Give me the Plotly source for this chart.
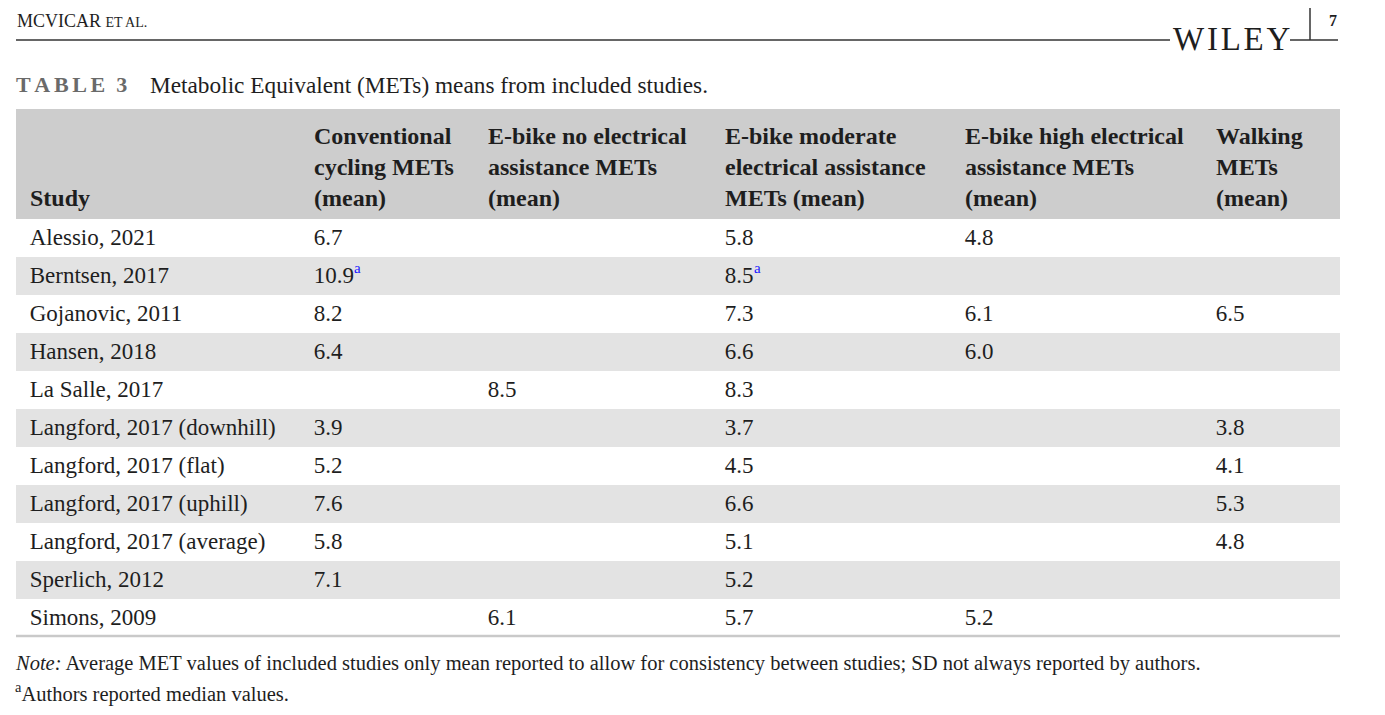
import plotly.graph_objects as go

# page offset (default body margin of the html page)
OFF = 8
WF, HF = 1385 - 2 * OFF, 715 - 2 * OFF

# ---------------- data ----------------
studies = ["Alessio, 2021", "Berntsen, 2017", "Gojanovic, 2011", "Hansen, 2018",
           "La Salle, 2017", "Langford, 2017 (downhill)", "Langford, 2017 (flat)",
           "Langford, 2017 (uphill)", "Langford, 2017 (average)", "Sperlich, 2012",
           "Simons, 2009"]
conventional = [6.7, 10.9, 8.2, 6.4, None, 3.9, 5.2, 7.6, 5.8, 7.1, None]
ebike_none = [None, None, None, None, 8.5, None, None, None, None, None, 6.1]
ebike_moderate = [5.8, 8.5, 7.3, 6.6, 8.3, 3.7, 4.5, 6.6, 5.1, 5.2, 5.7]
ebike_high = [4.8, None, 6.1, 6.0, None, None, None, None, None, None, 5.2]
walking = [None, None, 6.5, None, None, 3.8, 4.1, 5.3, 4.8, None, None]
median_conventional = [False, True, False, False, False, False, False, False, False, False, False]
median_moderate = [False, True, False, False, False, False, False, False, False, False, False]

header_lines = [
    ["", "", "Study"],
    ["Conventional", "cycling METs", "(mean)"],
    ["E-bike no electrical", "assistance METs", "(mean)"],
    ["E-bike moderate", "electrical assistance", "METs (mean)"],
    ["E-bike high electrical", "assistance METs", "(mean)"],
    ["Walking", "METs", "(mean)"],
]

title_label = "TABLE 3"
title_text = "Metabolic Equivalent (METs) means from included studies."
note_text = ("<i>Note:</i> Average MET values of included studies only mean reported to allow for "
             "consistency between studies; SD not always reported by authors.")
footnote_marker = "a"
footnote_text = "Authors reported median values."

# ---------------- styling ----------------
FONT = "Liberation Serif"
TXT = "#1e1e1e"
HEADER_FILL = "#cdcdcd"
STRIPE = "#e3e3e3"
SUP_COLOR = "#1a1aff"
PAD = "\u00a0"
BODY_SIZE = 23
HEAD_SIZE = 24

def fmt(vals):
    return ["" if v is None else PAD + f"{v:.1f}" for v in vals]

cols = [
    [PAD + s for s in studies],
    fmt(conventional),
    fmt(ebike_none),
    fmt(ebike_moderate),
    fmt(ebike_high),
    fmt(walking),
]
header_vals = ["<b>" + "<br>".join(PAD + l if l else PAD for l in hl) + "</b>" for hl in header_lines]

row_fill = ["white" if i % 2 == 0 else STRIPE for i in range(len(studies))]

# table geometry (reference pixels)
x_left, x_right = 16, 1340
col_edges = [16, 300, 474, 711, 951, 1202, 1340]
col_widths = [col_edges[i + 1] - col_edges[i] for i in range(6)]
table_top = 109
header_shift = 6
header_h = 110
row_h = 38
cell_pad = 8
table_bottom = table_top + header_h + row_h * len(studies)

def px(x):
    return (x - OFF) / WF

def py(y):
    return 1 - (y - OFF) / HF

fig = go.Figure(go.Table(
    domain=dict(x=[px(x_left), px(x_right)], y=[0.0, py(table_top + header_shift)]),
    columnwidth=col_widths,
    header=dict(
        values=header_vals,
        fill_color=HEADER_FILL,
        line=dict(width=0, color=HEADER_FILL),
        align="left",
        height=header_h - header_shift,
        font=dict(family=FONT, size=HEAD_SIZE, color=TXT),
    ),
    cells=dict(
        values=cols,
        fill_color=[row_fill] * 6,
        line=dict(width=0, color=[row_fill] * 6),
        align="left",
        height=row_h,
        font=dict(family=FONT, size=BODY_SIZE, color=TXT),
    ),
))

shapes = []
# top strip of the header band (header text sits slightly lower than the table top)
shapes.append(dict(type="rect", xref="paper", yref="paper", x0=px(x_left), x1=px(x_right),
                   y0=py(table_top + header_shift + 1), y1=py(table_top),
                   fillcolor=HEADER_FILL, line=dict(width=0)))
# running head rule
shapes.append(dict(type="line", xref="paper", yref="paper", x0=px(16), x1=px(1170),
                   y0=py(40), y1=py(40), line=dict(color="#333333", width=1.5)))
shapes.append(dict(type="line", xref="paper", yref="paper", x0=px(1290), x1=px(1338),
                   y0=py(40), y1=py(40), line=dict(color="#333333", width=1.5)))
shapes.append(dict(type="line", xref="paper", yref="paper", x0=px(1310), x1=px(1310),
                   y0=py(8), y1=py(40), line=dict(color="#333333", width=1.5)))
# bottom table rule
shapes.append(dict(type="line", xref="paper", yref="paper", x0=px(x_left), x1=px(x_right),
                   y0=py(table_bottom - 1), y1=py(table_bottom - 1),
                   line=dict(color="#c9c9c9", width=2.5)))

HS = "\u200a"
SIX = "\u2006"
label = SIX.join("TABLE") + "\u2002" + "3"
annotations = [
    dict(text="MCVICAR <span style='font-size:14px'>ET AL.</span>", x=px(15), y=py(21),
         xref="paper", yref="paper", xanchor="left", yanchor="middle", showarrow=False,
         font=dict(family=FONT, size=18, color=TXT)),
    dict(text=HS.join("WILEY"), x=px(1231), y=py(39), xref="paper", yref="paper",
         xanchor="center", yanchor="middle", showarrow=False,
         font=dict(family=FONT, size=33, color=TXT)),
    dict(text="<b>7</b>", x=px(1333), y=py(21), xref="paper", yref="paper",
         xanchor="center", yanchor="middle", showarrow=False,
         font=dict(family=FONT, size=16, color=TXT)),
    dict(text="<b>" + label + "</b>", x=px(14), y=py(85),
         xref="paper", yref="paper", xanchor="left", yanchor="middle", showarrow=False,
         font=dict(family=FONT, size=22, color="#6a6a6a")),
    dict(text=title_text, x=px(148), y=py(85), xref="paper", yref="paper",
         xanchor="left", yanchor="middle", showarrow=False,
         font=dict(family=FONT, size=23.3, color=TXT)),
    dict(text=note_text, x=px(13), y=py(663), xref="paper", yref="paper",
         xanchor="left", yanchor="middle", showarrow=False,
         font=dict(family=FONT, size=20.5, color=TXT)),
    dict(text="<sup>" + footnote_marker + "</sup>" + footnote_text, x=px(13), y=py(692),
         xref="paper", yref="paper", xanchor="left", yanchor="middle", showarrow=False,
         font=dict(family=FONT, size=20.5, color=TXT)),
]

# superscript "a" markers after median values (placed right after the number in its cell)
def num_width(s):
    # Liberation Serif advance widths: digits 0.5em, period 0.25em
    return sum(0.5 if ch.isdigit() else 0.25 for ch in s) * BODY_SIZE

nbsp_w = 0.25 * BODY_SIZE
for col_idx, vals, flags in [(1, conventional, median_conventional),
                             (3, ebike_moderate, median_moderate)]:
    for r, (v, f) in enumerate(zip(vals, flags)):
        if f and v is not None:
            x_sup = col_edges[col_idx] + cell_pad + nbsp_w + num_width(f"{v:.1f}") - 1
            y_sup = table_top + header_h + r * row_h + 11
            annotations.append(dict(
                text=footnote_marker, x=px(x_sup), y=py(y_sup), xref="paper", yref="paper",
                xanchor="left", yanchor="middle", showarrow=False, borderpad=0,
                font=dict(family=FONT, size=15, color=SUP_COLOR)))

fig.update_layout(
    width=WF, height=HF,
    margin=dict(l=0, r=0, t=0, b=0),
    paper_bgcolor="white", plot_bgcolor="white",
    shapes=shapes, annotations=annotations,
    showlegend=False,
)

fig.write_html("out.html")
